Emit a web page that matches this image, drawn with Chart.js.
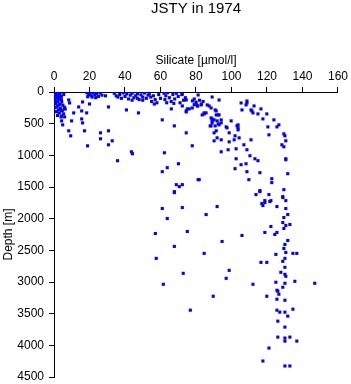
<!DOCTYPE html>
<html>
<head>
<meta charset="utf-8">
<title>JSTY in 1974</title>
<script src="https://cdn.jsdelivr.net/npm/chart.js@4/dist/chart.umd.min.js"></script>
<style>
  html, body { margin: 0; padding: 0; background: #fff; }
  #wrap { width: 351px; height: 384px; }
</style>
</head>
<body>
<div id="wrap"><canvas id="chart" width="351" height="384"></canvas></div>
<script>
// [silicate µmol/l, depth m] samples
const surfaceSamples = [
  [0.5,10],[1.2,25],[2.3,15],[3.4,35],[0.8,55],[2.6,65],[4.1,80],[1.5,100],[3.0,115],[0.6,135],
  [2.2,150],[4.4,160],[1.0,180],[3.3,195],[5.0,210],[1.8,225],[0.7,245],[3.6,260],[2.5,280],[4.7,290],
  [1.4,310],[3.0,330],[5.4,345],[2.0,370],[4.0,395],[1.2,20],[5.5,40],[3.8,70],[2.8,95],[4.2,125],
  [0.9,175],[2.8,205],[5.8,240],[6.3,270],
  [8.3,126],[8.8,173],[6,252],[4.3,299],[11.1,330],[16.1,157],[20,189],[13.9,236],[15.6,299],[18.4,330],
  [4.3,378],[6,393],[4.3,456],[9.9,456],[15.6,425],[16.1,488],[4.9,519],[8.3,613],[17.2,613],[9.4,692],
  [26.2,645],[26.2,739],[30.7,613],[32.8,771],[30.7,236],[40.8,283],[47.6,330],[30.7,834],[18.9,850],
  [35.8,1085],[43.6,944],[44.2,975]
];

const shallowSamples = [
  [18.5,10],[19.5,40],[20.2,20],[21,60],[22,10],[23,45],[24,25],[25,70],[26,15],[27,50],[21.5,80],[19,75],
  [29,60],[23.5,90],
  [34,20],[35,60],[37,40],[38,100],[39,15],[40,70],[41,30],[42,110],[43,50],[44,20],[45,90],[46,60],
  [47,30],[48,120],[49,45],[50,80],[51,15],[52,100],[53,50],[50,130],[44,130],[36,80],[47,100],
  [53.7,30],[54.5,80],[55,150],[56,60],[57,120],[58,170],[59,40],[60,100],[56.5,190],
  [62,20],[62.5,120],[63,60],[64,10],[65,90],[66,150],[67,40],[68,110],[69,20],[70,70],[71,170],[72,40],
  [73,130],[74,90],[63.5,170],[67.5,180],[72.3,31],[74.5,126],
  [78,140],[79,200],[80,160],[81,220],[82,130],[83,190],[84,150],[79,110],[80.1,189],[80.7,220],[82.9,204]
];

const intermediateSamples = [
  [81.2,47],[89.1,79],[93,126],[105.4,173],[108.7,173],[105.9,283],[66.1,267],[72.3,220],[74.5,299],
  [76.2,267],[77.9,252],[86.3,204],[88.5,252],[84.6,330],[83.5,362],[91.4,299],[93,362],[88.5,409],
  [90.2,440],[91.9,456],[94.2,440],[99.8,456],[89.1,488],[93,519],[61,440],[67.8,535],[74.5,645],
  [88.5,535],[91.4,613],[90.2,645],[97,551],[103.1,535],[103.7,598],[98.7,645],[91.9,724],[94.2,755],
  [90.2,771],[98.7,787],[102,692],[104.3,724],[101.5,755],
  [108.7,142],[108.2,204],[111,283],[87.4,220],[90.8,283],[84.6,346],[85.7,330],[89.1,425],[91.4,362],
  [92.5,362],[89.1,456],[88,535],[90.8,535],[92.5,503],[94.2,488],[97.5,566],[103.7,519],[103.7,566],
  [74.5,315],[75.1,267],
  [112.7,220],[111.5,299],[112.1,330],[116.6,267],[114.9,346],[119.9,346],[117.7,425],[123.9,440],
  [120.5,551],[126.7,519],[125.6,551],[129.5,661],[130.1,692],[121.1,676],[130.6,771],[111,755]
];

const deepSamples = [
  [62.2,960],[70.1,1133],[61,1258],[63.8,1195],[77.9,849],[68.9,1463],[72.3,1463],[70.6,1494],
  [67.8,1573],[81.2,1384],
  [94.2,944],[98.1,912],[102.6,897],[107,834],[108.7,912],[110.4,1007],[102.6,1054],[113.2,1054],
  [114.9,1085],[105.4,1148],[108.2,1133],[102,1211],[108.7,1258],[116,1274],[109.8,1384],[122.7,1369],
  [122.7,1431],[116,1557],[121.1,1620],[113.8,1620],[118.8,1715],[122.2,1715],[81.8,1384],
  [128.4,834],[129.5,865],[130.6,1054],[130.6,1070],[131.7,1290],[129.5,1542],[128.9,1667],[130.6,1715],
  [116,1573],[128.9,1652],[118.8,1746],[117.1,1762],[121.6,1730],[117.7,1793],[125.6,1809],[130.6,1840],
  [72.3,1825],[91.9,1809],[85.7,1935],[131.7,1935],[129.5,1982],[128.9,2061],[130.6,2108],[132.9,2092],
  [129.5,2155],[122.2,2124],[118.8,2218],[125.6,2218],[124.4,2249],[75.1,2202],[105.9,2265],[94.7,2360],
  [131.7,2344],[130.1,2407],[129.5,2470],[130.6,2533],[134.6,2548],[136.8,2548],[125,2564],[84.6,2548],
  [130.1,2627],[128.9,2674],[116.6,2690],[119.9,2690],[130.1,2768],[98.7,2816],[127.8,2847],[130.1,2879],
  [130.6,2910],[72.8,2863],[97,2942],[125,3004],[130.1,3020],[135.7,2989],[146.9,3020],[112.1,3036],
  [128.9,3083],[125.6,3130],[126.7,3193],[89.7,3225],[119.9,3225],[125.6,3272],[130.1,3288],[76.8,3445],
  [125.6,3445],[134.6,3429],
  [67.8,1589],[61,1840],[63.8,1998],[57.1,2234],[67.8,2438],[57.6,2627],[61.6,3036],
  [126.1,3146],[127.2,3476],[130.1,3476],[131.7,3539],[126.1,3618],[130.1,3712],[126.1,3870],[130.1,3885],
  [130.1,3933],[132.9,3870],[136.8,3933],[121.1,4043],[117.7,4247],[130.1,4326],[132.9,4326]
];

const silicateTicks = [0, 20, 40, 60, 80, 100, 120, 140, 160];
const depthTicks = [0, 500, 1000, 1500, 2000, 2500, 3000, 3500, 4000, 4500];

const FONT = '"Liberation Sans", Arial, Helvetica, sans-serif';

const points = [...surfaceSamples, ...shallowSamples, ...intermediateSamples, ...deepSamples]
  .map(([x, d]) => ({ x: x, y: d }));

new Chart(document.getElementById('chart'), {
  type: 'scatter',
  data: {
    datasets: [{
      label: 'Silicate',
      data: points,
      pointStyle: 'rect',
      pointRadius: 2.2,
      borderWidth: 0,
      backgroundColor: '#0000ff',
      borderColor: '#0000ff'
    }]
  },
  options: {
    responsive: false,
    animation: false,
    layout: { padding: { left: 0, right: 11, top: 0, bottom: 7 } },
    plugins: {
      legend: { display: false },
      tooltip: { enabled: false },
      title: {
        display: true,
        text: 'JSTY in 1974',
        fullSize: false,
        color: '#000',
        font: { family: FONT, size: 15, weight: 'normal' },
        padding: { top: 0, bottom: 10 }
      }
    },
    scales: {
      x: {
        type: 'linear',
        position: 'top',
        min: 0,
        max: 160,
        afterBuildTicks: (scale) => { scale.ticks = silicateTicks.map(v => ({ value: v })); },
        afterFit: (scale) => { scale.height = 64; },
        border: { display: true, color: '#000', width: 1 },
        grid: { drawOnChartArea: false, drawTicks: true, tickLength: 5, color: '#000' },
        ticks: {
          color: '#000', padding: 3, maxRotation: 0,
          font: { family: FONT, size: 12 },
          callback: (v) => String(v)
        },
        title: {
          display: true,
          text: 'Silicate [µmol/l]',
          color: '#000',
          font: { family: FONT, size: 12 },
          padding: { top: 25, bottom: 0 }
        }
      },
      y: {
        type: 'linear',
        reverse: true,
        min: 0,
        max: 4500,
        afterBuildTicks: (scale) => { scale.ticks = depthTicks.map(v => ({ value: v })); },
        afterFit: (scale) => {
          scale.width = 54;
          scale.paddingTop = 0;
          scale.paddingBottom = 0;
        },
        border: { display: true, color: '#000', width: 1 },
        grid: { drawOnChartArea: false, drawTicks: true, tickLength: 5, color: '#000' },
        ticks: {
          color: '#000', padding: 5,
          font: { family: FONT, size: 12 },
          callback: (v) => String(v)
        },
        title: {
          display: true,
          text: 'Depth [m]',
          color: '#000',
          font: { family: FONT, size: 12 },
          padding: { top: 1, bottom: 0 }
        }
      }
    }
  }
});
</script>
</body>
</html>
